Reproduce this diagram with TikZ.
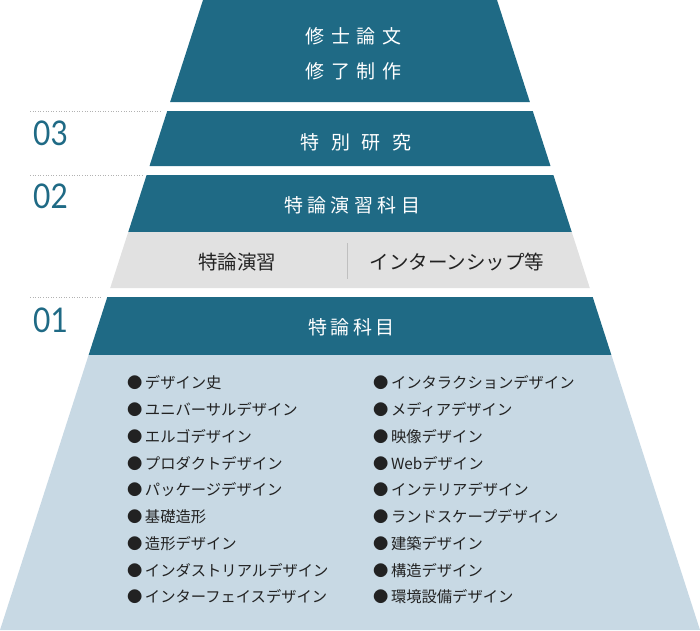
\documentclass[tikz,border=0pt]{standalone}
\usepackage{fontspec}
\newfontfamily\jp{Noto Sans CJK JP}
\newfontfamily\numfont{Lato}
\usetikzlibrary{positioning}

\definecolor{bandteal}{HTML}{1F6A85}
\definecolor{bandgray}{HTML}{E1E1E1}
\definecolor{bandlight}{HTML}{C8D9E4}
\definecolor{listtext}{HTML}{222222}

\tikzset{
  title/.style={text=white, inner sep=0pt, font=\jp\fontsize{19}{19}\selectfont},
  subtitle/.style={text=listtext, inner sep=0pt, font=\jp\fontsize{19.5}{19.5}\selectfont},
  level/.style={text=bandteal, anchor=west, inner sep=0pt, xscale=0.88,
    font=\numfont\fontsize{34}{34}\selectfont},
  item/.style={text=listtext, anchor=west, inner sep=0pt, font=\jp\fontsize{15.3}{15.3}\selectfont},
  guide/.style={draw=black!30, dotted, line width=0.6pt},
}

\begin{document}
\begin{tikzpicture}[x=1pt, y=-1pt]
  \useasboundingbox (0,0) rectangle (700,630);

  % pyramid bands, top to bottom
  \foreach \t/\b/\c in {0/102/bandteal, 111/166/bandteal, 175/232/bandteal,
                        232/288/bandgray, 297/355/bandteal, 355/630/bandlight}
    \fill[\c] ({203-0.3222*\t},\t) -- ({497+0.3222*\t},\t)
      -- ({497+0.3222*\b},\b) -- ({203-0.3222*\b},\b) -- cycle;

  % level markers
  \draw[guide] (30,111) -- (162,111);
  \draw[guide] (30,175) -- (142,175);
  \draw[guide] (30,297) -- (101,297);
  \node[level] (lv3) at (33,133) {03};
  \node[level] (lv2) at (33,196) {02};
  \node[level] (lv1) at (33,320) {01};

  % band titles
  \node[title, font=\jp\fontsize{19}{19}\selectfont\addfontfeature{LetterSpace=35}]
    (thesis) at (350,36) {\kern0.35em 修士論文};
  \node[title, font=\jp\fontsize{19}{19}\selectfont\addfontfeature{LetterSpace=35}]
    (work) at (350,71) {\kern0.35em 修了制作};
  \node[title, font=\jp\fontsize{19}{19}\selectfont\addfontfeature{LetterSpace=63}]
    (research) at (350,142) {\kern0.63em 特別研究};
  \node[title, font=\jp\fontsize{19}{19}\selectfont\addfontfeature{LetterSpace=23}]
    (seminar) at (350,205) {\kern0.23em 特論演習科目};
  \node[subtitle] (practice) at (237,262) {特論演習};
  \node[subtitle] (intern) at (457,262) {インターンシップ等};
  \coordinate (divtop) at (347,243);
  \coordinate (divbot) at (347,279);
  \draw[black!25, line width=0.6pt] (divtop) -- (divbot);
  \node[title, font=\jp\fontsize{19}{19}\selectfont\addfontfeature{LetterSpace=16}]
    (lecture) at (350,327) {\kern0.16em 特論科目};

  % lecture subjects
  \foreach \txt [count=\i] in {デザイン史, ユニバーサルデザイン, エルゴデザイン,
      プロダクトデザイン, パッケージデザイン, 基礎造形, 造形デザイン,
      インダストリアルデザイン, インターフェイスデザイン}
    \node[item] (l\i) at (127,{383+26.75*(\i-1)}) {●\kern2.5pt\txt};
  \foreach \txt [count=\i] in {インタラクションデザイン, メディアデザイン, 映像デザイン,
      Webデザイン, インテリアデザイン, ランドスケープデザイン, 建築デザイン,
      構造デザイン, 環境設備デザイン}
    \node[item] (r\i) at (373,{383+26.75*(\i-1)}) {●\kern2.5pt\txt};
\end{tikzpicture}
\end{document}
